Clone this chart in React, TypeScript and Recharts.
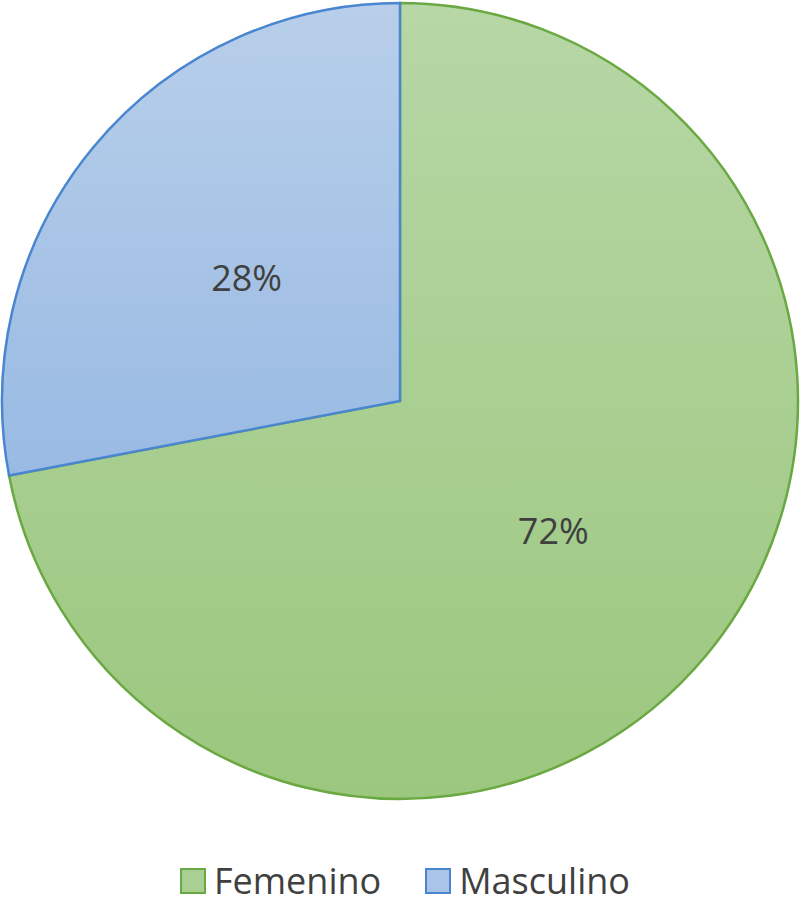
import { PieChart, Pie, Cell, Legend } from "recharts";

const categorias = ["Femenino", "Masculino"];
const valores = [72, 28];
const rellenos = ["url(#gradVerde)", "url(#gradAzul)"];
const bordes = ["#6aa842", "#4a86d0"];
const muestras = ["#a9cf93", "#a9c4e7"];

const data = categorias.map((c, i) => ({ nombre: c, valor: valores[i] }));
const total = valores.reduce((a, b) => a + b, 0);

const RADIAN = Math.PI / 180;

const renderLabel = (props: any) => {
  const { cx, cy, midAngle, outerRadius, value } = props;
  const r = outerRadius * 0.5;
  const x = cx + r * Math.cos(-midAngle * RADIAN);
  const y = cy + r * Math.sin(-midAngle * RADIAN);
  return (
    <text
      x={x}
      y={y + 3}
      fill="#404040"
      fontSize={36}
      fontFamily="'Open Sans', sans-serif"
      textAnchor="middle"
      dominantBaseline="central"
    >
      {`${Math.round((value / total) * 100)}%`}
    </text>
  );
};

const renderLegend = () => (
  <div
    style={{
      display: "flex",
      justifyContent: "center",
      gap: 44,
      fontFamily: "'Open Sans', sans-serif",
      fontSize: 36,
      color: "#404040",
      lineHeight: "44px",
      paddingLeft: 10,
    }}
  >
    {categorias.map((c, i) => (
      <div key={c} style={{ display: "flex", alignItems: "center" }}>
        <span
          style={{
            display: "inline-block",
            width: 22,
            height: 22,
            border: `2px solid ${bordes[i]}`,
            background: muestras[i],
            marginRight: 8,
          }}
        />
        {c}
      </div>
    ))}
  </div>
);

export default function App() {
  return (
    <div style={{ position: "absolute", left: 0, top: 0, background: "#fff" }}>
      <PieChart width={800} height={903} margin={{ top: 0, right: 0, bottom: 0, left: 0 }}>
        <defs>
          <linearGradient id="gradVerde" x1="0" y1="0" x2="0" y2="1">
            <stop offset="0%" stopColor="#b7d7a6" />
            <stop offset="100%" stopColor="#9bc77e" />
          </linearGradient>
          <linearGradient id="gradAzul" x1="0" y1="0" x2="0" y2="1">
            <stop offset="0%" stopColor="#b8cfea" />
            <stop offset="100%" stopColor="#99bae3" />
          </linearGradient>
        </defs>
        <Pie
          data={data}
          dataKey="valor"
          nameKey="nombre"
          cx={400}
          cy={401}
          outerRadius={398}
          startAngle={90}
          endAngle={-270}
          label={renderLabel}
          labelLine={false}
          isAnimationActive={false}
        >
          {data.map((d, i) => (
            <Cell key={d.nombre} fill={rellenos[i]} stroke={bordes[i]} strokeWidth={2.5} />
          ))}
        </Pie>
        <Legend
          verticalAlign="bottom"
          content={renderLegend}
          wrapperStyle={{ bottom: 0, left: 0, width: 800 }}
        />
      </PieChart>
    </div>
  );
}
